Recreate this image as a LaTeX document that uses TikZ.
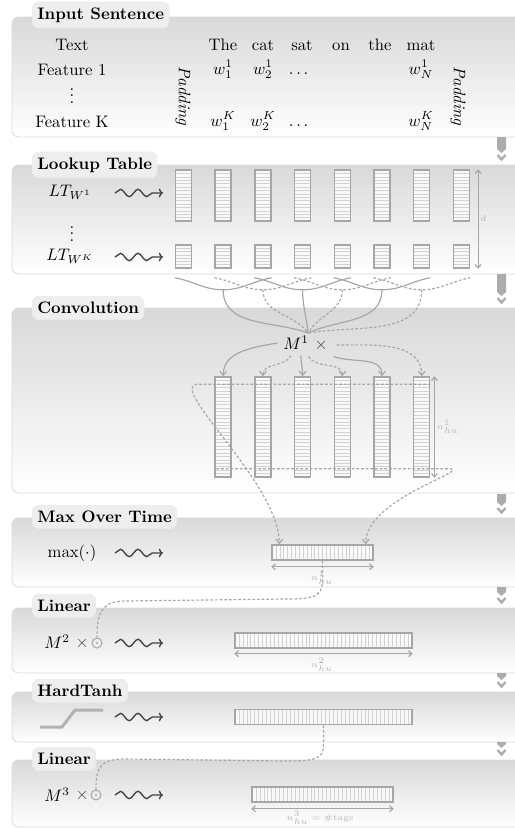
\documentclass[tikz,border=0pt]{standalone}
\usepackage{amsmath, amssymb}
\usetikzlibrary{positioning, arrows.meta, calc, decorations.pathmorphing}

% grey down arrow on the right between two panels
\newcommand{\flowarrow}[2]{%
  \fill[gray!65] (497,#1) -- (506,#1) -- (506,#2-16) -- (501.5,#2-12) -- (497,#2-16) -- cycle;
  \draw[gray!65, line width=1.4pt] (497.5,#2-10) -- (501.5,#2-5.5) -- (505.5,#2-10);}

\begin{document}
\begin{tikzpicture}[x=0.6pt, y=-0.6pt,
  every node/.style={font=\normalsize},
  panel/.style={draw=gray!30, line width=0.5pt, rounded corners=4pt, top color=gray!30, bottom color=white},
  paneltitle/.style={fill=gray!13, draw=gray!16, rounded corners=4pt, font=\bfseries,
    inner xsep=3pt, minimum height=14pt, anchor=west},
  word/.style={anchor=base, inner sep=1pt},
  vcol/.style={draw=gray!70, fill=gray!5, line width=0.9pt, minimum width=9.6pt, inner sep=0pt},
  hrow/.style={draw=gray!70, fill=gray!5, line width=0.9pt, minimum height=9pt, inner sep=0pt},
  hstripes/.style={path picture={\foreach \s in {1,...,#1} {\draw[gray!35, line width=0.3pt]
    ($(path picture bounding box.north west)!{\s/(#1+1)}!(path picture bounding box.south west)$) --
    ($(path picture bounding box.north east)!{\s/(#1+1)}!(path picture bounding box.south east)$);}}},
  vstripes/.style={path picture={\foreach \s in {1,...,#1} {\draw[gray!35, line width=0.3pt]
    ($(path picture bounding box.north west)!{\s/(#1+1)}!(path picture bounding box.north east)$) --
    ($(path picture bounding box.south west)!{\s/(#1+1)}!(path picture bounding box.south east)$);}}},
  squig/.style={decorate, decoration={snake, amplitude=2.2pt, segment length=10.5pt, post length=5pt},
    black!75, line width=0.8pt, -{To[length=2.5pt]}},
  conn/.style={gray!70, line width=0.7pt},
  dconn/.style={conn, dash pattern=on 1.6pt off 1.2pt},
  barb/.style={-{Straight Barb[length=2.5pt, width=4pt]}},
  dimarr/.style={{Straight Barb[length=2pt, width=3.5pt]}-{Straight Barb[length=2pt, width=3.5pt]}, gray!70, line width=0.7pt},
  dlbl/.style={font=\tiny, text=gray!60, inner sep=1pt},
  odot/.style={circle, draw=gray!70, line width=0.6pt, minimum size=6pt, inner sep=0pt,
    path picture={\fill[gray!70] (path picture bounding box.center) circle (0.7pt);}}
]
\clip (0,0) rectangle (515,829);

% ---------- Panels ----------
\foreach \ya/\yb in {17/137, 165/274, 308/493, 518/587, 608/673, 692/742, 760/827}
  \draw[panel] (12,\ya) rectangle (540,\yb);

\flowarrow{137}{165}
\flowarrow{274}{308}
\flowarrow{494}{518}
\flowarrow{587}{608}
\flowarrow{673}{692}
\flowarrow{742}{760}

\node[paneltitle] (tin)   at (32,15)  {Input Sentence};
\node[paneltitle] (tlt)   at (32,165) {Lookup Table};
\node[paneltitle] (tconv) at (32,308) {Convolution};
\node[paneltitle] (tmax)  at (32,517) {Max Over Time};
\node[paneltitle] (tlin)  at (32,606) {Linear};
\node[paneltitle] (tht)   at (32,691) {HardTanh};
\node[paneltitle] (tlinb) at (32,759) {Linear};

% ---------- Input sentence ----------
\node[word] (txt)   at (72,50)  {Text};
\node[word] (feat1) at (72,75)  {Feature 1};
\node[inner sep=1pt] (fdots) at (72,91) {$\vdots$};
\node[word] (featK) at (72,127) {Feature K};
\node[rotate=-90] (padl) at (183,96) {\textit{Padding}};
\node[rotate=-90] (padr) at (458,96) {\textit{Padding}};
\foreach \w/\x [count=\i] in {The/223, cat/263, sat/302, on/341, the/380, mat/421}
  \node[word] (word\i) at (\x,50) {\w};
\foreach \lab/\x [count=\i] in {w_1/223, w_2/263, w_N/421} {
  \node[word] (fa\i) at (\x,74)  {$\lab^1$};
  \node[word] (fk\i) at (\x,126) {$\lab^K$};
}
\node[word] (fadots) at (300,74)  {$\dots$};
\node[word] (fkdots) at (300,126) {$\dots$};

% ---------- Lookup table ----------
\node (lt1)    at (70,192) {$LT_{W^1}$};
\node (ltdots) at (72,229) {$\vdots$};
\node (ltK)    at (70,256) {$LT_{W^K}$};
\foreach \i in {1,...,8} {
  \pgfmathsetmacro\cx{183.5+39.7*(\i-1)}
  \node[vcol, hstripes=14, minimum height=30.6pt] (lta\i) at (\cx,195.5) {};
  \node[vcol, hstripes=6, minimum height=13.8pt]  (ltb\i) at (\cx,256.5) {};
}
\draw[dimarr] ($(lta8.north east)+(8,0)$) -- ($(ltb8.south east)+(8,0)$)
  node[dlbl, midway, right] {$d$};

% windows of three words, then into M^1
\coordinate (mtop) at (308,333);
\foreach \k/\st/\ang in {1/conn/160, 2/dconn/125, 3/conn/95, 4/dconn/60, 5/conn/25, 6/dconn/10} {
  \pgfmathtruncatemacro\j{\k+1}
  \pgfmathtruncatemacro\l{\k+2}
  \draw[\st] ($(ltb\k.south west)+(0,9)$) to[out=-10, in=180] ($(ltb\j.south)+(0,21)$) coordinate (win\k)
    to[out=0, in=190] ($(ltb\l.south east)+(0,9)$);
  \draw[\st] (win\k) to[out=-90, in=\ang] (mtop);
}

% ---------- Convolution ----------
\node (m1) at (296,343) {$M^1$};
\node[text=black!75] (x1) at (321,345) {$\times$};
\foreach \i in {1,...,6} {
  \pgfmathsetmacro\cx{223.2+39.7*(\i-1)}
  \node[vcol, hstripes=28, minimum height=60pt] (cv\i) at (\cx,427) {};
}
\draw[conn, barb]  (m1.west) to[out=190, in=90] (cv1.north);
\draw[dconn, barb] ([xshift=-3pt]m1.south) to[out=-120, in=90] (cv2.north);
\draw[conn, barb]  ([xshift=3pt]m1.south) to[out=-90, in=90] (cv3.north);
\draw[dconn, barb] (x1.south west) to[out=-60, in=90] (cv4.north);
\draw[conn, barb]  (x1.south east) to[out=-20, in=90] (cv5.north);
\draw[dconn, barb] ([xshift=2pt]x1.east) to[out=0, in=90] (cv6.north);
\draw[dimarr] ($(cv6.north east)+(4,0)$) -- ($(cv6.south east)+(4,0)$)
  node[dlbl, midway, right] {$n^1_{hu}$};

% ---------- Max over time ----------
\node (maxop) at (72,553) {$\max(\cdot)$};
\node[hrow, vstripes=25, minimum width=60.6pt] (maxbox) at (322.5,552.5) {};
\draw[dconn, barb] ($(cv6.north east)+(0,8)$) -- ($(cv1.north west)+(-18,8)$)
  .. controls +(-27,5) and +(0,-60) .. ([xshift=4.8pt]maxbox.north west);
\draw[dconn, barb] ($(cv1.south west)+(2,-9)$) -- ($(cv6.south east)+(20,-9)$)
  .. controls +(20,2) and +(0,-45) .. ([xshift=-4.8pt]maxbox.north east);
\draw[dimarr] ($(maxbox.south west)+(0,6)$) -- ($(maxbox.south east)+(0,6)$);
\node[dlbl] (nmax) at (322,578) {$n^1_{hu}$};

% ---------- Linear 1 ----------
\node (m2) at (57,642) {$M^2$};
\node[text=black!75] (x2) at (82,643) {$\times$};
\node[odot] (odot2) at (97,643) {};
\node[hrow, vstripes=44, minimum width=106.2pt] (linbox) at (323.5,640.5) {};
\draw[dimarr] ($(linbox.south west)+(0,5)$) -- ($(linbox.south east)+(0,5)$);
\node[dlbl] (nlin) at (322,665) {$n^2_{hu}$};
\draw[dconn] (maxbox.south) -- ++(0,16) .. controls +(0,18) and +(35,0) .. (285,599)
  -- (125,601) .. controls +(-25,0) and +(0,-22) .. (odot2.north);

% ---------- HardTanh ----------
\draw[gray!60, line width=1.8pt] (40,727) -- (62,727) -- (75,710) -- (103,710);
\node[hrow, vstripes=44, minimum width=106.2pt] (htbox) at (323.5,717) {};

% ---------- Linear 2 ----------
\node (m3) at (57,795) {$M^3$};
\node[text=black!75] (x3) at (82,795) {$\times$};
\node[odot] (odot3) at (96,795) {};
\node[hrow, vstripes=35, minimum width=84.6pt] (linbbox) at (322.5,794.5) {};
\draw[dimarr] ($(linbbox.south west)+(0,6)$) -- ($(linbbox.south east)+(0,6)$);
\node[dlbl] (nlinb) at (320,818) {$n^3_{hu} = \#\text{tags}$};
\draw[dconn] (htbox.south) -- ++(0,20) .. controls +(0,14) and +(30,0) .. (285,761)
  -- (125,759) .. controls +(-25,0) and +(0,-22) .. (odot3.north);

% ---------- squiggly arrows ----------
\foreach \y [count=\i] in {193, 257, 553, 643, 717, 795}
  \draw[squig] (115,\y) -- ++(48,0);

\end{tikzpicture}
\end{document}
